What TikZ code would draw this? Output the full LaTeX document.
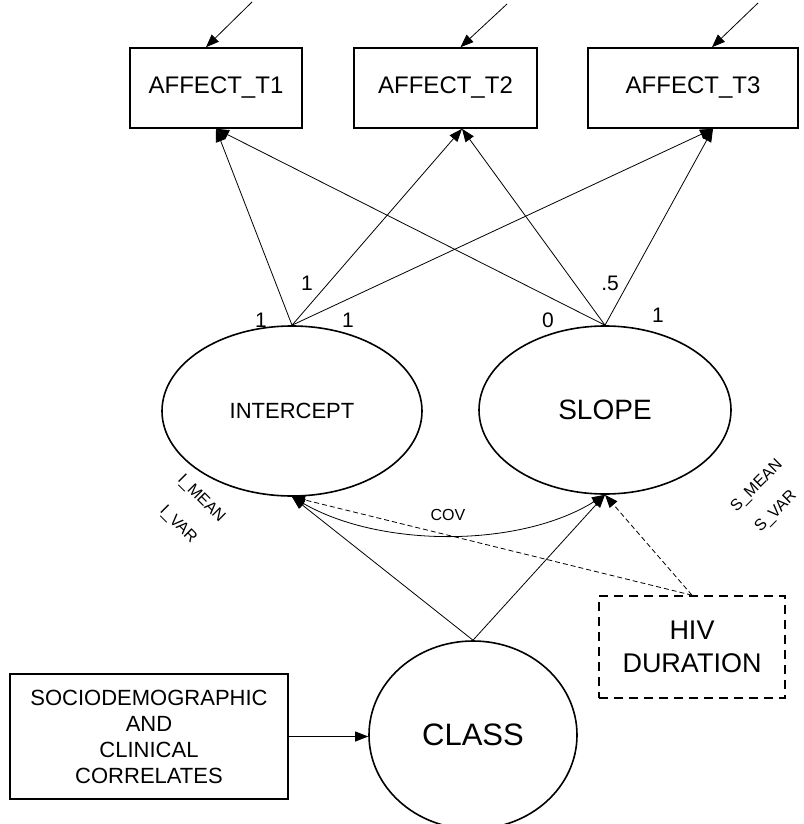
\documentclass[tikz,border=0pt]{standalone}
\usepackage{fontspec}
\setmainfont{Liberation Sans}
\usetikzlibrary{arrows.meta,shapes.geometric,calc}
\begin{document}
\begin{tikzpicture}[x=1pt,y=-1pt,
  box/.style={draw,line width=1.6pt,minimum height=80pt,inner sep=0pt,font=\fontsize{24}{28}\selectfont},
  lat/.style={draw,ellipse,line width=1.6pt,inner sep=0pt},
  arr/.style={line width=0.8pt,-{Triangle[length=13pt,width=10pt]}},
  darr/.style={arr,dash pattern=on 5pt off 3pt},
  lab/.style={font=\fontsize{21}{24}\selectfont,inner sep=0pt},
  slab/.style={font=\fontsize{16}{18}\selectfont,inner sep=0pt}
]
\useasboundingbox (0,0) rectangle (803,824);
% observed indicators
\node[box,minimum width=172pt] (t1) at (216,88) {AFFECT\_T1};
\node[box,minimum width=183pt] (t2) at (445.5,88) {AFFECT\_T2};
\node[box,minimum width=210pt] (t3) at (693,88) {AFFECT\_T3};
% error arrows
\coordinate (e1) at (252,2);
\coordinate (e2) at (507,4);
\coordinate (e3) at (758,3);
\draw[arr] (e1) -- ([xshift=-10pt]t1.north);
\draw[arr] (e2) -- ([xshift=15pt]t2.north);
\draw[arr] (e3) -- ([xshift=19pt]t3.north);
% latent growth factors
\node[lat,minimum width=260pt,minimum height=170pt,font=\fontsize{22}{26}\selectfont] (icpt) at (292,411) {INTERCEPT};
\node[lat,minimum width=252pt,minimum height=168pt,font=\fontsize{28}{32}\selectfont] (slope) at (605,410) {SLOPE};
\node[lat,minimum width=208pt,minimum height=188pt,font=\fontsize{31}{35}\selectfont] (class) at (473,735) {CLASS};
% covariates
\node[draw,line width=1.6pt,minimum width=278pt,minimum height=125pt,inner sep=0pt,align=center,
  font=\fontsize{22}{26}\selectfont] (socio) at (149,736.5) {SOCIODEMOGRAPHIC\\AND\\CLINICAL\\CORRELATES};
\node[draw,line width=1.6pt,dash pattern=on 9pt off 6pt,minimum width=186pt,minimum height=102pt,inner sep=0pt,align=center,
  font=\fontsize{27}{33}\selectfont] (hiv) at (692,647) {HIV\\DURATION};
% loadings
\draw[arr] (icpt.north) -- (t1.south);
\draw[arr] (icpt.north) -- ([xshift=16.5pt]t2.south);
\draw[arr] (icpt.north) -- ([xshift=20pt]t3.south);
\draw[arr] (slope.north) -- (t1.south);
\draw[arr] (slope.north) -- ([xshift=16.5pt]t2.south);
\draw[arr] (slope.north) -- ([xshift=20pt]t3.south);
\node[lab] (l1) at (261,320) {1};
\node[lab] (l2) at (307,283) {1};
\node[lab] (l3) at (348,320) {1};
\node[lab] (l4) at (548,320) {0};
\node[lab] (l5) at (610,283) {.5};
\node[lab] (l6) at (658,315) {1};
% predictors
\draw[arr] (class.north) -- (icpt.south);
\draw[arr] (class.north) -- (slope.south);
\draw[darr] (hiv.north) -- (icpt.south);
\draw[darr] (hiv.north) -- (slope.south);
\draw[arr] (socio.east) -- (socio.east -| class.west);
% covariance
\draw[line width=0.8pt,{Triangle[length=13pt,width=10pt]}-{Triangle[length=13pt,width=10pt]}]
  (icpt.south) .. controls (380,548) and (520,548) .. (slope.south);
\node[slab] (cov) at (448,515) {COV};
% parameter labels
\node[slab,rotate=-45] (im) at (201,499) {I\_MEAN};
\node[slab,rotate=-45] (iv) at (178,525) {I\_VAR};
\node[slab,rotate=45] (sm) at (757,486) {S\_MEAN};
\node[slab,rotate=45] (sv) at (776,512) {S\_VAR};
\end{tikzpicture}
\end{document}
